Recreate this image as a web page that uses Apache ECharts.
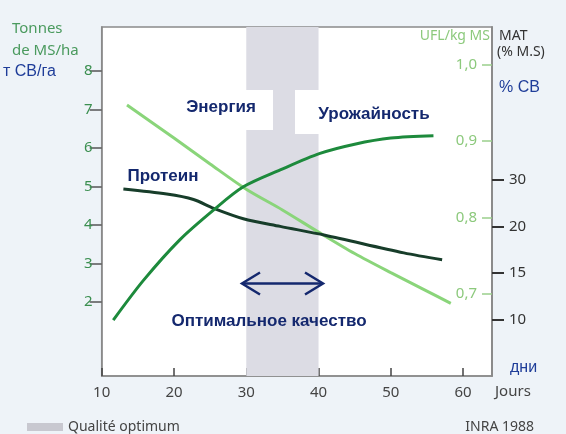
<!DOCTYPE html>
<html>
<head>
<meta charset="utf-8">
<script src="https://cdn.jsdelivr.net/npm/echarts/dist/echarts.min.js"></script>
<style>
  html, body { margin: 0; padding: 0; background: #eef3f8; }
  #chart { width: 566px; height: 434px; }
</style>
</head>
<body>
<div id="chart"></div>
<script>
// values
var yieldDays = [11.6, 15.8, 20.8, 25.5, 29.6, 34.7, 40.2, 45.0, 50.0, 55.9];
var yieldValues = [1.52, 2.56, 3.61, 4.39, 4.99, 5.43, 5.86, 6.10, 6.26, 6.32];
var energyDays = [13.5, 20, 25, 30, 35, 40, 45, 50, 55, 58.3];
var energyValues = [0.947, 0.904, 0.870, 0.837, 0.810, 0.781, 0.753, 0.728, 0.704, 0.688];
var proteinDays = [13.0, 19.0, 22.7, 25.5, 29.6, 34.7, 40.9, 51.8, 57.1];
var proteinValues = [4.93, 4.80, 4.66, 4.43, 4.16, 3.96, 3.73, 3.27, 3.09];
var dayTicks = [10, 20, 30, 40, 50, 60];
var tonneTicks = [2, 3, 4, 5, 6, 7, 8];
var uflTicks = [0.7, 0.8, 0.9, 1.0];
var matTicks = ["10", "15", "20", "30"];
var optimumRange = [30, 40];

function pairs(xs, ys) {
  return xs.map(function (x, i) { return [x, ys[i]]; });
}

var navy = "#14286e";
var blue = "#1f3d99";
var axisGrey = "#8a8a8a";
var boldFont = "bold 17px 'Liberation Sans', Arial, sans-serif";

var chart = echarts.init(document.getElementById("chart"));

var option = {
  backgroundColor: "#eef3f8",
  animation: false,
  grid: {
    left: 101.7,
    right: 74,
    top: 27,
    bottom: 58,
    show: true,
    backgroundColor: "#fff",
    borderColor: axisGrey,
    borderWidth: 1.5
  },
  xAxis: {
    type: "value",
    min: 10,
    max: 64,
    splitLine: { show: false },
    axisLine: { onZero: false, lineStyle: { color: axisGrey, width: 1.5 } },
    axisTick: {
      customValues: dayTicks,
      inside: true,
      length: 8,
      lineStyle: { color: "#444", width: 1.5 }
    },
    axisLabel: {
      customValues: dayTicks,
      margin: 9,
      color: "#444",
      fontSize: 15,
      fontFamily: "Noto Sans"
    }
  },
  yAxis: [
    {
      // Tonnes de MS/ha
      type: "value",
      position: "left",
      min: 0.065,
      max: 9.15,
      splitLine: { show: false },
      axisLine: { show: true, onZero: false, lineStyle: { color: axisGrey, width: 1.5 } },
      axisTick: {
        show: true,
        customValues: tonneTicks,
        length: 12,
        lineStyle: { color: "#555", width: 1.5 }
      },
      axisLabel: {
        customValues: tonneTicks,
        margin: 9,
        color: "#3b8f50",
        fontSize: 15,
        fontFamily: "Noto Sans"
      }
    },
    {
      // UFL/kg MS
      type: "value",
      position: "right",
      offset: 0,
      min: 0.593,
      max: 1.049,
      splitLine: { show: false },
      axisLine: { show: true, onZero: false, lineStyle: { color: axisGrey, width: 1.5 } },
      axisTick: {
        show: true,
        inside: true,
        customValues: uflTicks,
        length: 10,
        lineStyle: { color: "#9bcf8c", width: 1.5 }
      },
      axisLabel: {
        customValues: uflTicks,
        inside: true,
        margin: 15,
        color: "#8cc97c",
        fontSize: 15,
        fontFamily: "Noto Sans",
        formatter: function (v) { return v.toFixed(1).replace(".", ","); }
      }
    },
    {
      // MAT (% M.S), unevenly spaced ticks -> index scale
      type: "value",
      position: "right",
      offset: 0,
      min: -1.2,
      max: 6.27,
      splitLine: { show: false },
      axisLine: { show: true, onZero: false, lineStyle: { color: axisGrey, width: 1.5 } },
      axisTick: {
        show: true,
        customValues: [0, 1, 2, 3],
        length: 12,
        lineStyle: { color: "#333", width: 2 }
      },
      axisLabel: {
        customValues: [0, 1, 2, 3],
        margin: 17,
        color: "#333",
        fontSize: 15,
        fontFamily: "Noto Sans",
        formatter: function (v) { return matTicks[Math.round(v)]; }
      }
    }
  ],
  series: [
    {
      name: "Урожайность",
      type: "line",
      yAxisIndex: 0,
      data: pairs(yieldDays, yieldValues),
      smooth: 0.3,
      symbol: "none",
      lineStyle: { color: "#1d8a3c", width: 3 },
      markArea: {
        silent: true,
        itemStyle: { color: "#dcdce4" },
        data: [[{ xAxis: optimumRange[0] }, { xAxis: optimumRange[1] }]]
      },
      z: 4
    },
    {
      name: "Энергия",
      type: "line",
      yAxisIndex: 1,
      data: pairs(energyDays, energyValues),
      smooth: 0.3,
      symbol: "none",
      lineStyle: { color: "#8ad57a", width: 3 },
      z: 3
    },
    {
      name: "Протеин",
      type: "line",
      yAxisIndex: 0,
      data: pairs(proteinDays, proteinValues),
      smooth: 0.3,
      symbol: "none",
      lineStyle: { color: "#173d2a", width: 3 },
      z: 3
    }
  ],
  graphic: [
    // white label boxes over the shaded band
    { type: "rect", z: 50, shape: { x: 190, y: 90, width: 83, height: 40 }, style: { fill: "#fff" } },
    { type: "rect", z: 50, shape: { x: 295, y: 90, width: 145, height: 44 }, style: { fill: "#fff" } },
    { type: "text", z: 60, x: 221, y: 107, style: { text: "Энергия", font: boldFont, fill: navy, align: "center", verticalAlign: "middle" } },
    { type: "text", z: 60, x: 374, y: 114, style: { text: "Урожайность", font: boldFont, fill: navy, align: "center", verticalAlign: "middle" } },
    { type: "text", z: 60, x: 163, y: 176, style: { text: "Протеин", font: boldFont, fill: navy, align: "center", verticalAlign: "middle" } },
    { type: "text", z: 60, x: 269, y: 321, style: { text: "Оптимальное качество", font: boldFont, fill: navy, align: "center", verticalAlign: "middle" } },
    // double arrow
    { type: "polyline", z: 60, shape: { points: [[242, 283.5], [323, 283.5]] }, style: { stroke: navy, lineWidth: 2.5, fill: null } },
    { type: "polyline", z: 60, shape: { points: [[260, 272.5], [242, 283.5], [260, 294.5]] }, style: { stroke: navy, lineWidth: 2.5, fill: null } },
    { type: "polyline", z: 60, shape: { points: [[305, 272.5], [323, 283.5], [305, 294.5]] }, style: { stroke: navy, lineWidth: 2.5, fill: null } },
    // axis titles
    { type: "text", z: 60, x: 12, y: 29, style: { text: "Tonnes", font: "15px 'Noto Sans'", fill: "#4a9a5e", verticalAlign: "middle" } },
    { type: "text", z: 60, x: 12, y: 51, style: { text: "de MS/ha", font: "15px 'Noto Sans'", fill: "#4a9a5e", verticalAlign: "middle" } },
    { type: "text", z: 60, x: 3, y: 72, style: { text: "т СВ/га", font: "16px 'Liberation Sans', Arial", fill: blue, verticalAlign: "middle" } },
    { type: "text", z: 60, x: 490, y: 36, style: { text: "UFL/kg MS", font: "14px 'Noto Sans'", fill: "#8cc97c", align: "right", verticalAlign: "middle" } },
    { type: "text", z: 60, x: 499, y: 36, style: { text: "MAT", font: "14px 'Noto Sans'", fill: "#333", verticalAlign: "middle" } },
    { type: "text", z: 60, x: 497, y: 52, style: { text: "(% M.S)", font: "14px 'Noto Sans'", fill: "#333", verticalAlign: "middle" } },
    { type: "text", z: 60, x: 499, y: 88, style: { text: "% СВ", font: "16px 'Liberation Sans', Arial", fill: blue, verticalAlign: "middle" } },
    { type: "text", z: 60, x: 510, y: 368, style: { text: "дни", font: "16px 'Liberation Sans', Arial", fill: blue, verticalAlign: "middle" } },
    { type: "text", z: 60, x: 495, y: 392, style: { text: "Jours", font: "15px 'Noto Sans'", fill: "#444", verticalAlign: "middle" } },
    // footer
    { type: "rect", z: 60, shape: { x: 27, y: 423, width: 36, height: 8 }, style: { fill: "#c8c8d0" } },
    { type: "text", z: 60, x: 68, y: 427, style: { text: "Qualité optimum", font: "14px 'Noto Sans'", fill: "#444", verticalAlign: "middle" } },
    { type: "text", z: 60, x: 534, y: 427, style: { text: "INRA 1988", font: "14px 'Noto Sans'", fill: "#444", align: "right", verticalAlign: "middle" } }
  ]
};

chart.setOption(option);
</script>
</body>
</html>
